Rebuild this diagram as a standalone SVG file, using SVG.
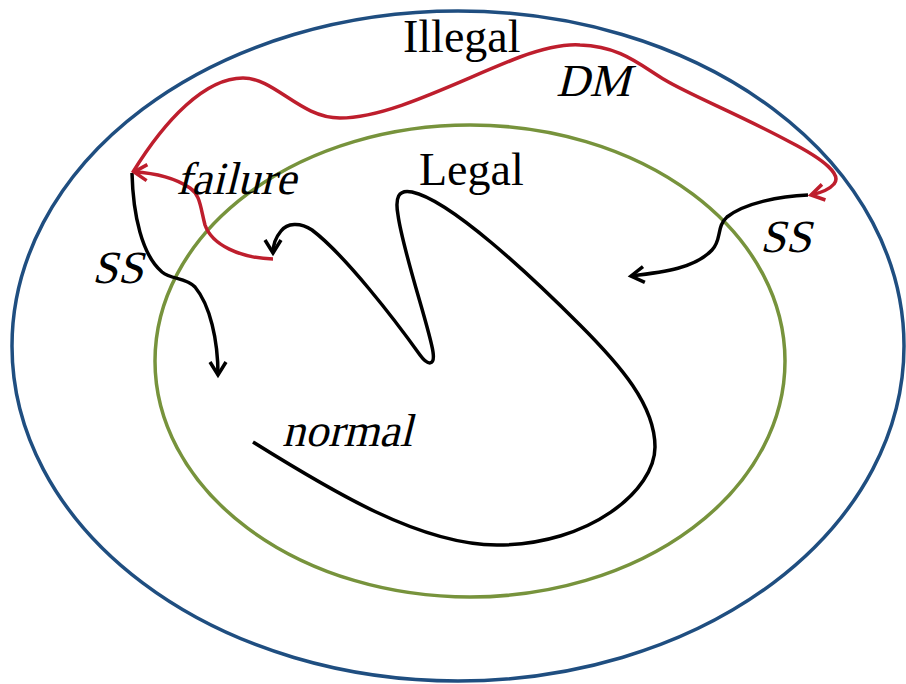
<svg xmlns="http://www.w3.org/2000/svg" width="906" height="684" viewBox="0 0 906 684">
<style>
.t{font-family:"Liberation Serif","Times New Roman",serif;font-size:46px;fill:#000}
.k{fill:none;stroke:#000;stroke-width:3.5;stroke-linecap:butt}
.r{fill:none;stroke:#be1e2d;stroke-width:3.5}
.e{fill:none;stroke-width:3.5}
</style>
<defs>
<marker id="ab" markerUnits="userSpaceOnUse" orient="auto" refX="0" refY="0" markerWidth="30" markerHeight="30" overflow="visible">
<path d="M-13,-8 L0,0 L-13,8" fill="none" stroke="#000" stroke-width="3.5"/>
</marker>
<marker id="ar" markerUnits="userSpaceOnUse" orient="auto" refX="0" refY="0" markerWidth="30" markerHeight="30" overflow="visible">
<path d="M-13,-8 L0,0 L-13,8" fill="none" stroke="#be1e2d" stroke-width="3.5"/>
</marker>
</defs>
<rect width="906" height="684" fill="#fff"/>
<g id="illegal">
<ellipse class="e" cx="458" cy="346" rx="446" ry="335" stroke="#1f4e80"/>
<text class="t" x="403" y="52">Illegal</text>
</g>
<g id="legal">
<ellipse class="e" cx="470" cy="361" rx="315" ry="236" stroke="#77933c"/>
<text class="t" x="419" y="185">Legal</text>
</g>
<g id="connectors">
<path id="normal" class="k" marker-end="url(#ab)" d="M253,442 C330,490 420,545 497,545 C590,545 655,490 655,447 C655,405 620,365 580,325 C530,275 450,200 412,192 C398,189 395,198 398,215 C403,252 430,330 433,352 C435,366 428,366 420,355 C395,320 345,255 312,230 C300,222 287,223 281,231 C276,237 273,245 273,253"/>
<path id="ss-left" class="k" marker-end="url(#ab)" d="M132,173 C133,215 142,255 162,272 C172,280 185,277 195,287 C210,305 218,340 218,375"/>
<path id="ss-right" class="k" marker-end="url(#ab)" d="M808,195 C780,196 745,203 727,217 C716,227 722,240 712,250 C695,268 665,272 631,276"/>
<path id="failure" class="r" marker-end="url(#ar)" d="M273,259 C240,258 212,245 205,225 C200,205 200,195 190,188 C175,178 155,173 134,172"/>
<path id="dm" class="r" marker-end="url(#ar)" d="M133,172 C165,120 205,78 243,78 C275,78 300,118 340,118 C390,118 460,80 520,57 C545,48 565,44 580,45 C620,46 640,65 665,80 C690,95 740,115 790,142 C825,160 842,175 834,184 C829,190 820,193 811,195"/>
<text class="t" transform="translate(556,96) skewX(-14)">DM</text>
<text class="t" transform="translate(176,194) skewX(-14)">failure</text>
<text class="t" transform="translate(92,283) skewX(-14)">SS</text>
<text class="t" transform="translate(760,252) skewX(-14)">SS</text>
<text class="t" transform="translate(282,446) skewX(-14)">normal</text>
</g>
</svg>
